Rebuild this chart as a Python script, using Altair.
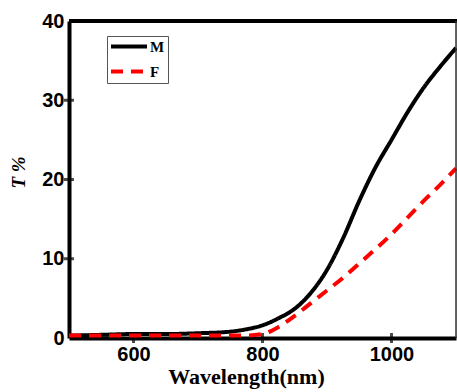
import altair as alt
import pandas as pd

wl = [500, 550, 600, 650, 700, 750, 775, 800, 825, 850, 875, 900, 925, 950, 975, 1000, 1025, 1050, 1075, 1100]
m_vals = [0.3, 0.4, 0.5, 0.5, 0.6, 0.8, 1.1, 1.6, 2.5, 3.7, 5.7, 8.6, 12.6, 17.3, 21.5, 25.0, 28.5, 31.6, 34.2, 36.6]
f_vals = [0.3, 0.3, 0.3, 0.3, 0.3, 0.3, 0.3, 0.5, 1.4, 2.8, 4.4, 6.0, 7.6, 9.4, 11.2, 13.1, 15.2, 17.3, 19.3, 21.4]
series = ["M", "F"]
y_ticks = [10, 20, 30]
x_ticks = [600, 800, 1000]

W, H = 387, 317

rows = []
for s, vals in zip(series, [m_vals, f_vals]):
    for w, v in zip(wl, vals):
        rows.append({"wl": w, "T": v, "s": s})
df = pd.DataFrame(rows)

xs = alt.Scale(domain=[500, 1100], nice=False, zero=False)
ys = alt.Scale(domain=[0, 40], nice=False)

lab = dict(labelFont="Liberation Sans", labelFontWeight="bold", labelFontSize=20,
           labelColor="black", titleColor="black")

xaxis = alt.Axis(
    values=x_ticks, format="d", title="Wavelength(nm)", ticks=False, grid=False,
    domainWidth=4, domainColor="black", labelPadding=6,
    titleX=177, titleY=45, titleBaseline="alphabetic", titleAlign="center",
    titleFont="Liberation Serif", titleFontSize=22, titleFontWeight="bold", **lab)
yaxis = alt.Axis(
    values=[0, 10, 20, 30, 40], title="T %", ticks=False, grid=False,
    domainWidth=4, domainColor="black", labelPadding=5,
    titleX=-51, titleY=151, titleAngle=-90, titleAlign="center",
    titleBaseline="middle",
    titleFont="Liberation Serif", titleFontSize=19, titleFontWeight="bold",
    titleFontStyle="italic", **lab)

leg = alt.Legend(title=None, orient="none", legendX=38, legendY=15,
                 symbolType="M-7,0H1", symbolStrokeWidth=4, symbolSize=81,
                 symbolFillColor="transparent", symbolOffset=25,
                 labelFont="Liberation Serif", labelFontWeight="bold", labelFontSize=15,
                 labelColor="black", strokeColor="#555555", padding=3, rowPadding=8,
                 labelOffset=0)

lines = alt.Chart(df).mark_line(interpolate="monotone", strokeWidth=4).encode(
    x=alt.X("wl:Q", scale=xs, axis=xaxis),
    y=alt.Y("T:Q", scale=ys, axis=yaxis),
    color=alt.Color("s:N", scale=alt.Scale(domain=series, range=["black", "#ff0000"]), legend=leg),
    strokeDash=alt.StrokeDash("s:N", scale=alt.Scale(domain=series, range=[[1, 0], [12, 8]]), legend=leg),
    order=alt.Order("s:N", sort="descending"),
)

ytick_df = pd.DataFrame({"wl": [500] * len(y_ticks), "T": y_ticks})
xtick_df = pd.DataFrame({"wl": x_ticks, "T": [0] * len(x_ticks)})

yt = alt.Chart(ytick_df).mark_tick(orient="horizontal", size=10, thickness=3, color="black").encode(
    x=alt.X("wl:Q", scale=xs, axis=xaxis), y=alt.Y("T:Q", scale=ys, axis=yaxis))
xt = alt.Chart(xtick_df).mark_tick(orient="vertical", size=10, thickness=3, color="black").encode(
    x=alt.X("wl:Q", scale=xs, axis=xaxis), y=alt.Y("T:Q", scale=ys, axis=yaxis))

top = alt.Chart().mark_rule(color="black", strokeWidth=4).encode(
    x=alt.value(0), x2=alt.value(W + 1), y=alt.value(0))
right = alt.Chart().mark_rule(color="#333333", strokeWidth=1.5).encode(
    x=alt.value(W), y=alt.value(0), y2=alt.value(H))

chart = alt.layer(xt, yt, lines, top, right).properties(
    width=W, height=H,
    autosize=alt.AutoSizeParams(type="none"),
    padding={"left": 69, "top": 21, "right": 1, "bottom": 54},
).configure_view(stroke=None).configure(background="white")

chart.save("out.html", embed_options={"renderer": "svg", "actions": False})
